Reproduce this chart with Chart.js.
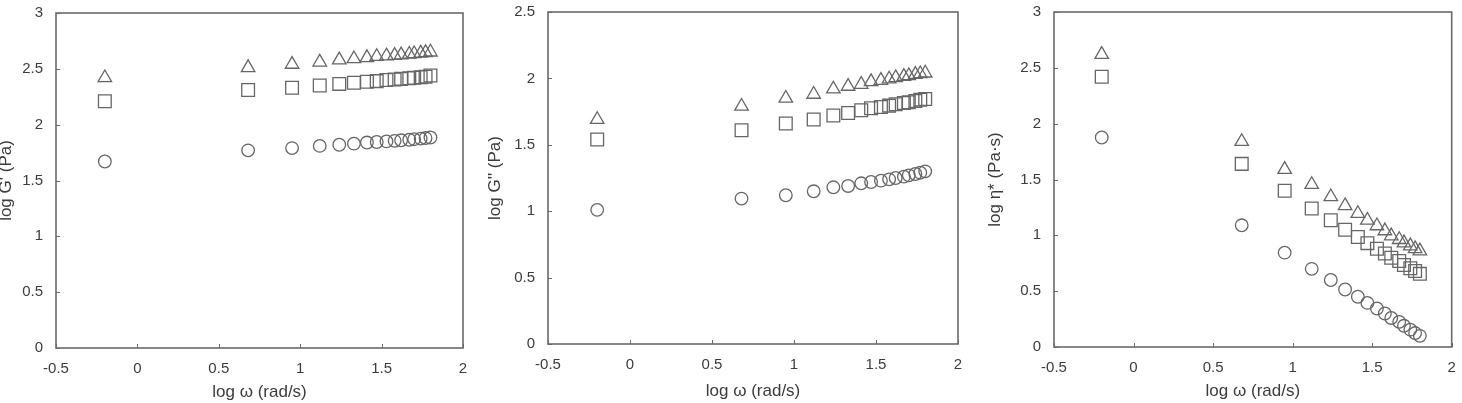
<!DOCTYPE html>
<html>
<head>
<meta charset="utf-8">
<script src="https://cdn.jsdelivr.net/npm/chart.js@4"></script>
<style>
  html, body { margin: 0; padding: 0; background: #fff; }
  body { width: 1462px; height: 403px; position: relative; overflow: hidden; }
  .panel { position: absolute; top: 0; height: 403px; }
</style>
</head>
<body>
<div class="panel" id="p1" style="left:-8px;width:488px;"><canvas id="c1"></canvas></div>
<div class="panel" id="p2" style="left:481px;width:491px;"><canvas id="c2"></canvas></div>
<div class="panel" id="p3" style="left:981px;width:481px;"><canvas id="c3"></canvas></div>
<script>
// log ω (rad/s)
const logOmega = [-0.2, 0.68, 0.95, 1.12, 1.24, 1.33, 1.41, 1.47, 1.53, 1.58, 1.62, 1.67, 1.70, 1.74, 1.77, 1.80];

// log G' (Pa)
const gPrimeTriangle = [2.42, 2.51, 2.54, 2.56, 2.58, 2.59, 2.60, 2.61, 2.615, 2.62, 2.625, 2.63, 2.635, 2.64, 2.645, 2.65];
const gPrimeSquare   = [2.21, 2.31, 2.33, 2.35, 2.365, 2.375, 2.385, 2.39, 2.40, 2.405, 2.41, 2.415, 2.42, 2.425, 2.43, 2.44];
const gPrimeCircle   = [1.67, 1.77, 1.79, 1.81, 1.82, 1.83, 1.84, 1.845, 1.85, 1.855, 1.86, 1.865, 1.87, 1.875, 1.88, 1.885];

// log G'' (Pa)
const gDoubleTriangle = [1.69, 1.79, 1.85, 1.88, 1.92, 1.94, 1.955, 1.975, 1.985, 1.995, 2.005, 2.015, 2.02, 2.03, 2.035, 2.04];
const gDoubleSquare   = [1.54, 1.61, 1.66, 1.69, 1.72, 1.74, 1.76, 1.775, 1.785, 1.795, 1.805, 1.815, 1.82, 1.83, 1.84, 1.845];
const gDoubleCircle   = [1.01, 1.095, 1.12, 1.15, 1.18, 1.19, 1.21, 1.22, 1.23, 1.24, 1.25, 1.26, 1.27, 1.28, 1.29, 1.30];

// log η* (Pa·s)
const etaTriangle = [2.62, 1.84, 1.59, 1.455, 1.345, 1.265, 1.195, 1.135, 1.085, 1.04, 0.995, 0.962, 0.932, 0.905, 0.88, 0.86];
const etaSquare   = [2.42, 1.64, 1.40, 1.24, 1.135, 1.05, 0.985, 0.93, 0.88, 0.837, 0.80, 0.77, 0.735, 0.705, 0.68, 0.655];
const etaCircle   = [1.876, 1.09, 0.845, 0.70, 0.60, 0.515, 0.45, 0.395, 0.345, 0.30, 0.26, 0.225, 0.19, 0.155, 0.125, 0.10];

const xTicks = [-0.5, 0, 0.5, 1, 1.5, 2];
const yTicks3 = [0, 0.5, 1, 1.5, 2, 2.5, 3];
const yTicks25 = [0, 0.5, 1, 1.5, 2, 2.5];

const xTitle = 'log ω (rad/s)';
const yTitles = ["log G' (Pa)", "log G'' (Pa)", "log η* (Pa·s)"];

const INK = '#666';
const TEXT = '#3c3c3c';
const FONT = 'Liberation Sans, Arial, sans-serif';

function pts(ys) { return logOmega.map((x, i) => ({ x: x, y: ys[i] })); }

const framePlugin = {
  id: 'frame',
  afterDraw(chart) {
    const ctx = chart.ctx;
    const a = chart.chartArea;
    ctx.save();
    ctx.strokeStyle = '#6a6a6a';
    ctx.lineWidth = 1.6;
    ctx.strokeRect(a.left, a.top, a.right - a.left, a.bottom - a.top);
    ctx.lineWidth = 1;
    const xs = chart.scales.x, ys = chart.scales.y;
    ctx.beginPath();
    xs.ticks.forEach(t => {
      const px = Math.round(xs.getPixelForValue(t.value)) + 0.5;
      ctx.moveTo(px, a.bottom); ctx.lineTo(px, a.bottom - 4);
    });
    ys.ticks.forEach(t => {
      const py = Math.round(ys.getPixelForValue(t.value)) + 0.5;
      ctx.moveTo(a.left, py); ctx.lineTo(a.left + 4, py);
    });
    ctx.stroke();
    ctx.restore();
  }
};

function zeroPad(s) { s.paddingTop = 0; s.paddingBottom = 0; s.paddingLeft = 0; s.paddingRight = 0; }

function makeChart(id, series, yMax, yTickList, yTitle, geom) {
  const styles = ['triangle', 'rect', 'circle'];
  const radii = [7.8, 9, 6.3];
  new Chart(document.getElementById(id), {
    type: 'scatter',
    data: {
      datasets: series.map((s, i) => ({
        data: pts(s),
        pointStyle: styles[i],
        pointRadius: radii[i],
        borderColor: INK,
        backgroundColor: 'rgba(0,0,0,0)',
        pointBorderWidth: 1.3,
        showLine: false
      }))
    },
    options: {
      responsive: true,
      maintainAspectRatio: false,
      animation: false,
      events: [],
      layout: { padding: { top: geom.top, right: geom.right, bottom: 0, left: 0 } },
      plugins: { legend: { display: false }, tooltip: { enabled: false } },
      scales: {
        x: {
          type: 'linear', min: -0.5, max: 2,
          afterBuildTicks: s => { s.ticks = xTicks.map(v => ({ value: v })); },
          afterFit: s => { s.height = geom.xh; zeroPad(s); },
          grid: { display: false, drawTicks: false },
          border: { display: false },
          ticks: { padding: 12, color: TEXT, font: { family: FONT, size: 15 }, maxRotation: 0, callback: v => String(v) },
          title: { display: true, text: xTitle, color: TEXT, font: { family: FONT, size: 17 }, padding: { top: 4, bottom: geom.xtb } }
        },
        y: {
          type: 'linear', min: 0, max: yMax,
          afterBuildTicks: s => { s.ticks = yTickList.map(v => ({ value: v })); },
          afterFit: s => { s.width = geom.yw; zeroPad(s); },
          grid: { display: false, drawTicks: false },
          border: { display: false },
          ticks: { padding: 13, color: TEXT, font: { family: FONT, size: 15 }, callback: v => String(v) },
          title: { display: true, text: yTitle, color: TEXT, font: { family: FONT, size: 17 }, padding: { top: 4, bottom: 4 } }
        }
      }
    },
    plugins: [framePlugin]
  });
}

makeChart('c1', [gPrimeTriangle, gPrimeSquare, gPrimeCircle], 3, yTicks3, yTitles[0], { top: 13, right: 17, xh: 55, yw: 64, xtb: 0 });
makeChart('c2', [gDoubleTriangle, gDoubleSquare, gDoubleCircle], 2.5, yTicks25, yTitles[1], { top: 12, right: 14, xh: 59, yw: 67, xtb: 1 });
makeChart('c3', [etaTriangle, etaSquare, etaCircle], 3, yTicks3, yTitles[2], { top: 12, right: 10, xh: 56, yw: 73, xtb: 1 });
</script>
</body>
</html>
